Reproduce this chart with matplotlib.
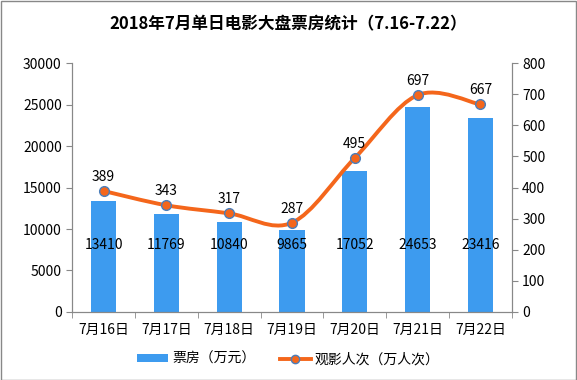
import numpy as np
import matplotlib
matplotlib.use("Agg")
import matplotlib.pyplot as plt
from matplotlib.path import Path
from matplotlib.patches import PathPatch
from matplotlib.lines import Line2D
from matplotlib.patches import Patch

plt.rcParams['font.family'] = ['Noto Sans CJK SC', 'DejaVu Sans']

# ============================
# Data
# ============================

dates = ["7月16日", "7月17日", "7月18日", "7月19日", "7月20日", "7月21日", "7月22日"]
box_office = [13410, 11769, 10840, 9865, 17052, 24653, 23416]
audience = [389, 343, 317, 287, 495, 697, 667]

bar_color = "#3D9BEF"
line_color = "#F4661B"

fig = plt.figure(figsize=(5.77, 3.80), dpi=100)
ax = fig.add_axes([0.125, 0.179, 0.762, 0.655])
ax2 = ax.twinx()

x = np.arange(len(dates))

# ============================
# Bars
# ============================

ax.bar(x, box_office, width=0.4, color=bar_color, zorder=2)
for xi, v in zip(x, box_office):
    ax.text(xi, 8100, str(v), ha="center", va="center", fontsize=10, color="black")

ax.set_ylim(0, 30000)
ax.set_yticks(range(0, 30001, 5000))
ax.set_xlim(-0.5, len(dates) - 0.5)
ax.set_xticks(x)
ax.set_xticklabels(dates, fontsize=10)
ax.set_xticks(np.arange(-0.5, len(dates), 1), minor=True)
ax.tick_params(axis="x", which="major", length=0, pad=8)
ax.tick_params(axis="x", which="minor", length=4, color="#888888")
ax.tick_params(axis="y", length=4, color="#888888", labelsize=10)

# ============================
# Smooth line (Catmull-Rom drawn as bezier path)
# ============================

pts = list(zip(x, audience))
verts = [pts[0]]
codes = [Path.MOVETO]
for i in range(len(pts) - 1):
    p0 = pts[i - 1] if i > 0 else pts[i]
    p1 = pts[i]
    p2 = pts[i + 1]
    p3 = pts[i + 2] if i + 2 < len(pts) else pts[i + 1]
    c1 = (p1[0] + (p2[0] - p0[0]) / 6, p1[1] + (p2[1] - p0[1]) / 6)
    c2 = (p2[0] - (p3[0] - p1[0]) / 6, p2[1] - (p3[1] - p1[1]) / 6)
    verts += [c1, c2, p2]
    codes += [Path.CURVE4] * 3

ax2.add_patch(PathPatch(Path(verts, codes), facecolor="none",
                        edgecolor=line_color, lw=2.8, zorder=3))
ax2.plot(x, audience, linestyle="none", marker="o", markersize=7,
         markerfacecolor=line_color, markeredgecolor="#4A7EBB",
         markeredgewidth=1, zorder=4)
for xi, v in zip(x, audience):
    ax2.text(xi, v + 45, str(v), ha="center", va="center", fontsize=10)

ax2.set_ylim(0, 800)
ax2.set_yticks(range(0, 801, 100))
ax2.tick_params(axis="y", length=4, color="#888888", labelsize=10)

for a in (ax, ax2):
    a.spines["top"].set_visible(False)
    for s in ("left", "right", "bottom"):
        a.spines[s].set_color("#888888")

# ============================
# Title and legend
# ============================

fig.text(0.5, 0.935, "2018年7月单日电影大盘票房统计（7.16-7.22）",
         ha="center", va="center", fontsize=12, fontweight="bold")

handles = [
    Patch(facecolor=bar_color),
    Line2D([0], [0], color=line_color, lw=2.8, marker="o", markersize=6,
           markerfacecolor=line_color, markeredgecolor="#4A7EBB"),
]
fig.legend(handles, ["票房（万元）", "观影人次（万人次）"], loc="center",
           bbox_to_anchor=(0.5, 0.055), ncol=2, frameon=False, fontsize=10,
           handlelength=2.2, handleheight=0.5, handletextpad=0.3, columnspacing=1.8)

fig.patches.append(plt.Rectangle((0.001, 0.001), 0.997, 0.997, transform=fig.transFigure,
                                 fill=False, edgecolor="#888888", lw=1))

fig.savefig("out.png", dpi=100)
